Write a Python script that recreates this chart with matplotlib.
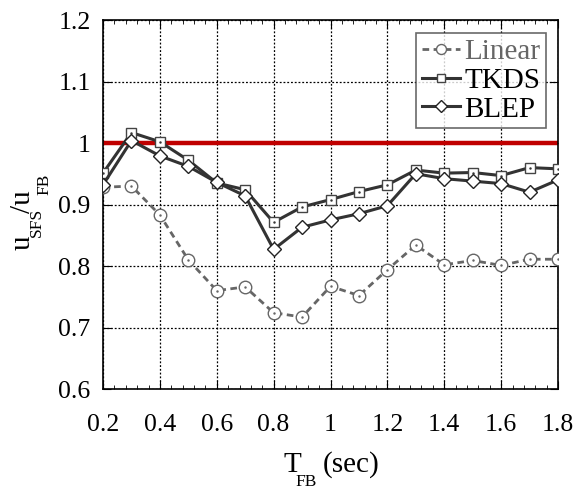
import matplotlib
matplotlib.use("Agg")
import matplotlib.pyplot as plt
import numpy as np
from matplotlib.ticker import MultipleLocator

plt.rcParams['font.family'] = ['Liberation Serif', 'DejaVu Serif']

# data
T_FB = [0.2, 0.3, 0.4, 0.5, 0.6, 0.7, 0.8, 0.9, 1.0, 1.1, 1.2, 1.3, 1.4, 1.5, 1.6, 1.7, 1.8]
linear = [0.928, 0.930, 0.883, 0.810, 0.760, 0.766, 0.724, 0.717, 0.767, 0.752, 0.794,
          0.834, 0.802, 0.809, 0.801, 0.811, 0.811]
tkds = [0.951, 1.017, 1.002, 0.972, 0.935, 0.924, 0.871, 0.896, 0.908, 0.921, 0.932,
        0.956, 0.951, 0.952, 0.947, 0.960, 0.958]
blep = [0.932, 1.004, 0.979, 0.962, 0.936, 0.914, 0.827, 0.863, 0.875, 0.885, 0.898,
        0.950, 0.942, 0.938, 0.934, 0.920, 0.940]
ref_ratio = 1.0
xtick_labels = ['0.2', '0.4', '0.6', '0.8', '1', '1.2', '1.4', '1.6', '1.8']
ytick_labels = ['0.6', '0.7', '0.8', '0.9', '1', '1.1', '1.2']

W, H = 573, 491
fig = plt.figure(figsize=(W / 100, H / 100), dpi=100)
ax = fig.add_axes([103 / W, 1 - 389 / H, 455 / W, 369 / H])

# reference line at 1
ax.axhline(ref_ratio, color='#c00000', lw=3.2, zorder=2)

gray = '#666666'
dark = '#333333'
ax.plot(T_FB, linear, color=gray, ls=(0, (2.4, 1.6)), lw=2, marker='o', ms=9,
        mfc='white', mec=gray, mew=1, label='Linear', zorder=3)
ax.plot(T_FB, tkds, color=dark, lw=2.2, marker='s', ms=7,
        mfc='white', mec='#444444', mew=1, label='TKDS', zorder=4)
ax.plot(T_FB, blep, color=dark, lw=2.2, marker='D', ms=7.5,
        mfc='white', mec='#222222', mew=1, label='BLEP', zorder=5)
# little centre dots in the markers
ax.plot(T_FB, linear, ls='none', marker='.', ms=1.5, color=gray, zorder=3)
ax.plot(T_FB, tkds, ls='none', marker='.', ms=1.5, color=dark, zorder=4)

ax.set_xlim(0.2, 1.8)
ax.set_ylim(0.6, 1.2)
ax.set_xticks(np.arange(0.2, 1.81, 0.2))
ax.set_xticklabels(xtick_labels)
ax.xaxis.set_minor_locator(MultipleLocator(0.04))
ax.set_yticks(np.arange(0.6, 1.21, 0.1))
ax.set_yticklabels(ytick_labels)
ax.tick_params(which='both', direction='in', top=True, right=True, labelsize=18.5)
ax.tick_params(which='major', length=6)
ax.tick_params(which='minor', length=3)
ax.tick_params(axis='x', pad=18)
ax.tick_params(axis='y', pad=9)
ax.grid(True, which='major', color='black', ls=(0, (1.5, 1.5)), lw=0.9)
for s in ax.spines.values():
    s.set_linewidth(1.2)

# axis labels built from pieces so the subscripts sit low like the original
def px(x, y):
    return x / W, 1 - y / H

fig.text(*px(283, 472), 'T', fontsize=21, ha='left', va='baseline')
fig.text(*px(295, 486), 'FB', fontsize=12.5, ha='left', va='baseline')
fig.text(*px(323, 472), '(sec)', fontsize=21, ha='left', va='baseline')

ykw = dict(rotation=90, rotation_mode='anchor', ha='left', va='baseline')
fig.text(*px(30, 250), 'u', fontsize=21, **ykw)
fig.text(*px(41, 237), 'SFS', fontsize=12.5, **ykw)
fig.text(*px(30, 213), '/u', fontsize=21, **ykw)
fig.text(*px(48, 195), 'FB', fontsize=12.5, **ykw)

leg = ax.legend(loc='upper right', bbox_to_anchor=(0.974, 0.965), fontsize=21,
                frameon=True, fancybox=False, edgecolor='#444444',
                handlelength=1.3, handletextpad=0.15, borderpad=0.2,
                labelspacing=0.08, borderaxespad=0, markerscale=0.8)
leg.get_frame().set_linewidth(1.2)
leg.get_texts()[0].set_color(gray)

fig.savefig('out.png', dpi=100)
